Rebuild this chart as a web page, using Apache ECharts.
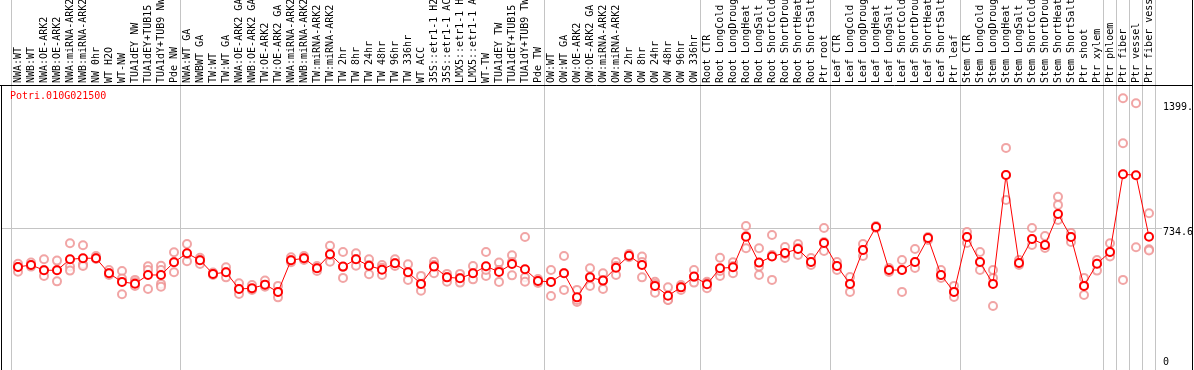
<!DOCTYPE html>
<html>
<head>
    <meta charset="utf-8">
    <title>Potri.010G021500</title>
    <script src="https://cdn.jsdelivr.net/npm/echarts@6/dist/echarts.min.js"></script>
    <style>
        html, body { margin: 0; padding: 0; background: #fff; }
        #main { width: 1194px; height: 370px; }
    </style>
</head>
<body>
<div id="main"></div>
<script type="text/javascript">
    // sample names along the top
    var samples = [
        'NWA:WT', 'NWB:WT', 'NWA:OE-ARK2', 'NWB:OE-ARK2', 'NWA:miRNA-ARK2', 'NWB:miRNA-ARK2',
        'NW 0hr', 'WT H2O', 'WT-NW', 'TUA1dEY NW', 'TUA1dEY+TUB15', 'TUA1dY+TUB9 NW', 'Pde NW',
        'NWA:WT GA', 'NWBWT GA', 'TW:WT', 'TW:WT GA', 'NWA:OE-ARK2 GA', 'NWB:OE-ARK2 GA',
        'TW:OE-ARK2', 'TW:OE-ARK2 GA', 'NWA:miRNA-ARK2', 'NWB:miRNA-ARK2', 'TW:miRNA-ARK2',
        'TW:miRNA-ARK2', 'TW 2hr', 'TW 8hr', 'TW 24hr', 'TW 48hr', 'TW 96hr', 'TW 336hr',
        'WT ACC', '35S::etr1-1 H2', '35S::etr1-1 AC', 'LMX5::etr1-1 H', 'LMX5::etr1-1 A',
        'WT-TW', 'TUA1dEY TW', 'TUA1dEY+TUB15', 'TUA1dY+TUB9 TW', 'Pde TW',
        'OW:WT', 'OW:WT GA', 'OW:OE-ARK2', 'OW:OE-ARK2 GA', 'OW:miRNA-ARK2', 'OW:miRNA-ARK2',
        'OW 2hr', 'OW 8hr', 'OW 24hr', 'OW 48hr', 'OW 96hr', 'OW 336hr',
        'Root CTR', 'Root LongCold', 'Root LongDroug', 'Root LongHeat', 'Root LongSalt',
        'Root ShortCold', 'Root ShortDrou', 'Root ShortHeat', 'Root ShortSalt', 'Ptr root',
        'Leaf CTR', 'Leaf LongCold', 'Leaf LongDroug', 'Leaf LongHeat', 'Leaf LongSalt',
        'Leaf ShortCold', 'Leaf ShortDrou', 'Leaf ShortHeat', 'Leaf ShortSalt', 'Ptr leaf',
        'Stem CTR', 'Stem LongCold', 'Stem LongDroug', 'Stem LongHeat', 'Stem LongSalt',
        'Stem ShortCold', 'Stem ShortDrou', 'Stem ShortHeat', 'Stem ShortSalt', 'Ptr shoot',
        'Ptr xylem', 'Ptr phloem', 'Ptr fiber', 'Ptr vessel', 'Ptr fiber vess'
    ];

    // mean expression per sample
    var meanVals = [
        522, 533, 504, 504, 564, 570, 570, 487, 440, 430, 478, 478, 548,
        597, 559, 484, 493, 401, 405, 425, 385, 559, 570, 515, 592, 524, 564, 529, 507, 542,
        493, 429, 524, 465, 460, 487, 526, 495, 538, 509, 445,
        440, 487, 355, 465, 447, 518, 584, 533, 418, 364, 410, 469,
        427, 515, 520, 688, 546, 579, 599, 621, 549, 654,
        527, 429, 615, 742, 505, 505, 549, 681, 478, 385,
        687, 549, 429, 1027, 544, 676, 643, 813, 687, 418, 540,
        604, 1031, 1026, 688
    ];

    // replicate values (null where a sample has fewer replicates)
    var rep1 = [
        540, 546, 564, 557, 652, 641, 582, 505, 500, 451, 526, 529, 603,
        648, 573, 491, 520, 432, 423, 447, 418, 575, 582, 527, 639, 604, 597, 564, 533, 564,
        537, 473, 551, 484, 484, 527, 604, 546, 586, 687, 456,
        505, 582, 396, 515, 487, 549, 593, 579, 441, 410, 423, 505,
        441, 573, 548, 692, 625, 698, 632, 648, 571, 736,
        549, 467, 648, 747, 516, 560, 621, 687, 505, 418,
        714, 604, 308, 1176, 560, 736, 692, 907, 709, 462, 560,
        652, 1449, 1421, 817
    ];
    var rep2 = [
        496, 524, 473, 443, 524, 537, 571, 478, 458, 438, 401, 505, 493,
        553, 538, 478, 465, 374, 396, 414, 355, 548, 560, 500, 551, 462, 529, 482, 518, 527,
        451, 392, 487, 441, 436, 454, 473, 505, 476, 465, 434,
        363, 396, 330, 418, 401, 478, 575, 465, 381, 341, 396, 436,
        405, 473, 487, 625, 524, 451, 571, 588, 533, 659,
        505, 385, 582, 736, 494, 385, 516, 670, 462, 357,
        654, 505, 462, 890, 533, 643, 626, 863, 659, 368, 502,
        579, 1202, 630, 619
    ];
    var rep3 = [
        522, 533, 505, 505, 502, 527, 566, 489, 372, 418, 505, 429, 549,
        593, 560, 484, 494, 401, 401, 423, 385, 560, 571, 516, 588, 522, 566, 533, 478, 544,
        494, 429, 533, 467, 462, 489, 505, 440, 549, 441, 445,
        440, 489, 341, 467, 451, 527, 582, 549, 429, 341, 412, 467,
        434, 500, 527, 747, 478, 588, 593, 626, 549, 610,
        527, 429, 615, 742, 505, 505, 549, 681, 478, 385,
        687, 549, 505, 1027, 544, 676, 643, 780, 687, 418, 540,
        604, 451, null, 612
    ];
    var rep4 = [];
    rep4[11] = 414;

    // first index of each sample block (last entry closes the axis)
    var groupStarts = [0, 13, 41, 53, 63, 73, 84, 85, 86, 87, 88];
    var yTicks = [0, 734.6, 1399.5];
    var yRefLine = 734.6;

    var myChart = echarts.init(document.getElementById('main'), null, {renderer: 'canvas'});
    var monoFont = '"DejaVu Sans Mono", "Liberation Mono", monospace';

    function repSeries(vals) {
        return {
            type: 'scatter',
            data: vals,
            symbol: 'emptyCircle',
            symbolSize: 8,
            itemStyle: { color: '#ee8f8f', borderColor: '#ee8f8f', borderWidth: 1.3 },
            z: 2,
            silent: true,
            animation: false
        };
    }

    var option = {
        backgroundColor: '#ffffff',
        animation: false,
        title: {
            text: 'Potri.010G021500',
            left: 10,
            top: 91,
            padding: 0,
            textStyle: { color: '#ff0000', fontSize: 10, fontWeight: 'normal', fontFamily: monoFont }
        },
        grid: {
            left: 11.5,
            right: 38.5,
            top: 86,
            bottom: 8,
            outerBoundsMode: 'none',
            containLabel: false
        },
        xAxis: {
            type: 'category',
            position: 'top',
            data: samples,
            boundaryGap: true,
            axisLine: { show: false },
            axisTick: { show: false },
            splitLine: { show: false },
            axisLabel: {
                interval: 0,
                rotate: 90,
                margin: 3,
                fontSize: 10,
                fontFamily: monoFont,
                color: '#000'
            }
        },
        yAxis: {
            type: 'value',
            position: 'right',
            min: 0,
            max: 1516,
            axisLine: { show: false },
            axisTick: { show: false },
            splitLine: { show: false },
            axisLabel: {
                customValues: yTicks,
                margin: 7.5,
                fontSize: 10,
                fontFamily: monoFont,
                color: '#000',
                formatter: function (v) {
                    if (v === yRefLine) {
                        return '{low|' + String(v) + '}';
                    }
                    return v === 0 ? '0' : String(v).slice(0, 5);
                },
                rich: {
                    low: { fontSize: 10, fontFamily: monoFont, color: '#000', padding: [8, 0, 0, 0] }
                }
            }
        },
        series: [
            repSeries(rep1),
            repSeries(rep2),
            repSeries(rep3),
            repSeries(rep4),
            {
                type: 'line',
                data: meanVals,
                symbol: 'emptyCircle',
                symbolSize: 8,
                lineStyle: { color: '#ff0000', width: 1 },
                itemStyle: { color: '#ff0000', borderColor: '#ff0000', borderWidth: 1.8 },
                z: 3,
                silent: true
            }
        ]
    };
    myChart.setOption(option);

    // frame and separator lines, placed from the axis scales
    var c0 = myChart.convertToPixel({xAxisIndex: 0}, 0);
    var c1 = myChart.convertToPixel({xAxisIndex: 0}, 1);
    var bw = c1 - c0;
    var lines = [];
    groupStarts.forEach(function (b) {
        var x = c0 - bw / 2 + b * bw;
        lines.push({
            type: 'line', silent: true, z: 0,
            shape: {x1: x, y1: 0, x2: x, y2: 370},
            style: {stroke: '#c4c4c4', lineWidth: 1}
        });
    });
    var yRef = Math.round(myChart.convertToPixel({yAxisIndex: 0}, yRefLine)) + 0.5;
    lines.push({
        type: 'line', silent: true, z: 0,
        shape: {x1: 2, y1: yRef, x2: 1162, y2: yRef},
        style: {stroke: '#c4c4c4', lineWidth: 1}
    });
    var gridTop = 85.5;
    lines.push({type: 'line', silent: true, z: 5, shape: {x1: 0, y1: gridTop, x2: 1193, y2: gridTop}, style: {stroke: '#000', lineWidth: 1}});
    lines.push({type: 'line', silent: true, z: 5, shape: {x1: 1.5, y1: gridTop, x2: 1.5, y2: 370}, style: {stroke: '#000', lineWidth: 1}});
    lines.push({type: 'line', silent: true, z: 5, shape: {x1: 1192.5, y1: 0, x2: 1192.5, y2: 370}, style: {stroke: '#000', lineWidth: 1}});
    myChart.setOption({graphic: lines});
</script>
</body>
</html>
